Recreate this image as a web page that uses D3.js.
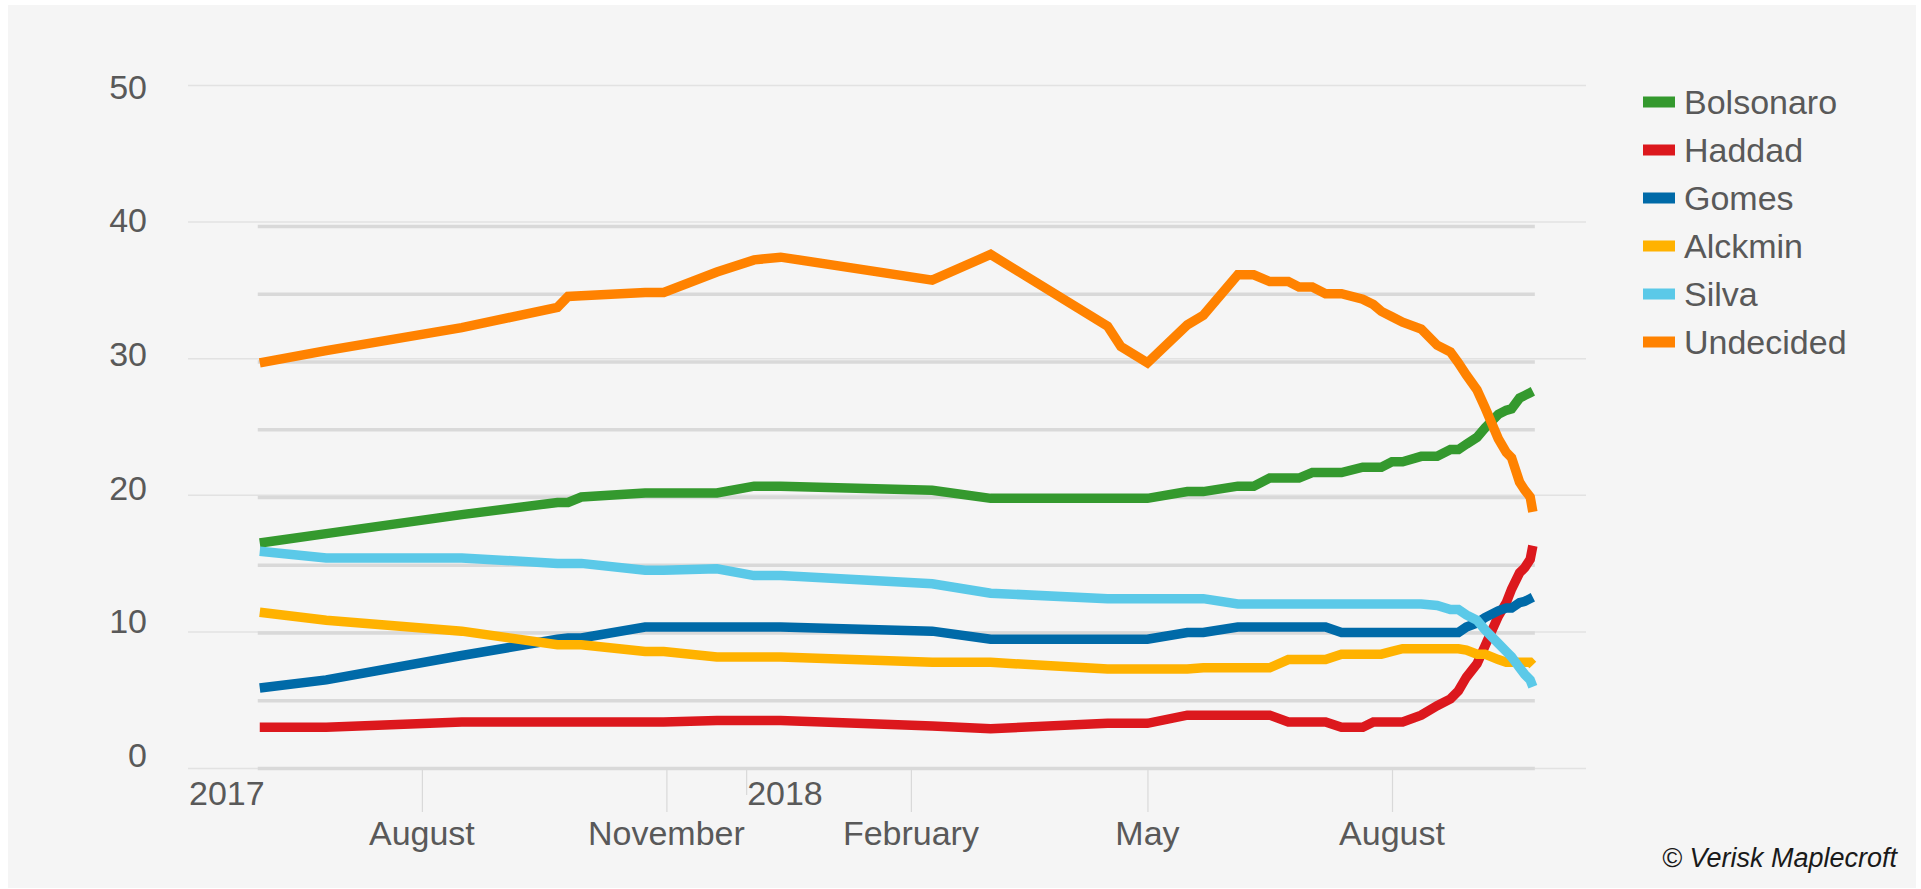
<!DOCTYPE html>
<html>
<head>
<meta charset="utf-8">
<script src="https://cdn.jsdelivr.net/npm/d3@7"></script>
<style>
  body { margin: 0; background: #ffffff; }
  text { font-family: "Liberation Sans", Arial, sans-serif; }
</style>
</head>
<body>
<div id="line-chart"></div>
<script>
// poll dates and one value per candidate per date
var pollDates = ["2017-06-01", "2017-06-26", "2017-08-16", "2017-09-21", "2017-09-25", "2017-09-30",
  "2017-10-24", "2017-10-31", "2017-11-20", "2017-12-04", "2017-12-14", "2018-02-09", "2018-03-03",
  "2018-04-16", "2018-04-21", "2018-05-01", "2018-05-16", "2018-05-22", "2018-06-04", "2018-06-10",
  "2018-06-16", "2018-06-23", "2018-06-27", "2018-07-02", "2018-07-07", "2018-07-13", "2018-07-21",
  "2018-07-25", "2018-07-28", "2018-08-01", "2018-08-05", "2018-08-12", "2018-08-18", "2018-08-23",
  "2018-08-26", "2018-08-29", "2018-09-02", "2018-09-05", "2018-09-10", "2018-09-13", "2018-09-15",
  "2018-09-18", "2018-09-20", "2018-09-22", "2018-09-23"];

var bolsonaro = [16.6, 17.3, 18.7, 19.6, 19.6, 20.0, 20.3, 20.3, 20.3, 20.8, 20.8, 20.5, 19.9,
  19.9, 19.9, 19.9, 20.4, 20.4, 20.8, 20.8, 21.4, 21.4, 21.4, 21.8, 21.8, 21.8, 22.2, 22.2, 22.2,
  22.6, 22.6, 23.0, 23.0, 23.5, 23.5, 23.9, 24.4, 25.1, 26.1, 26.4, 26.5, 27.3, 27.5, 27.7, 27.8];
var haddad = [3.0, 3.0, 3.4, 3.4, 3.4, 3.4, 3.4, 3.4, 3.5, 3.5, 3.5, 3.1, 2.9,
  3.3, 3.3, 3.3, 3.9, 3.9, 3.9, 3.9, 3.9, 3.4, 3.4, 3.4, 3.4, 3.0, 3.0, 3.4, 3.4,
  3.4, 3.4, 3.9, 4.6, 5.1, 5.7, 6.7, 7.7, 9.0, 11.2, 12.2, 13.2, 14.4, 14.8, 15.4, 16.4];
var gomes = [5.9, 6.5, 8.3, 9.5, 9.6, 9.6, 10.4, 10.4, 10.4, 10.4, 10.4, 10.1, 9.5,
  9.5, 9.5, 9.5, 10.0, 10.0, 10.4, 10.4, 10.4, 10.4, 10.4, 10.4, 10.4, 10.0, 10.0, 10.0, 10.0,
  10.0, 10.0, 10.0, 10.0, 10.0, 10.0, 10.4, 10.7, 11.1, 11.6, 11.8, 11.8, 12.2, 12.3, 12.5, 12.6];
var alckmin = [11.5, 10.9, 10.1, 9.1, 9.1, 9.1, 8.6, 8.6, 8.2, 8.2, 8.2, 7.8, 7.8,
  7.3, 7.3, 7.3, 7.3, 7.4, 7.4, 7.4, 7.4, 8.0, 8.0, 8.0, 8.0, 8.4, 8.4, 8.4, 8.4,
  8.6, 8.8, 8.8, 8.8, 8.8, 8.8, 8.7, 8.4, 8.4, 8.0, 7.8, 7.8, 7.8, 7.8, 7.8, 7.6];
var silva = [16.0, 15.5, 15.5, 15.1, 15.1, 15.1, 14.6, 14.6, 14.7, 14.2, 14.2, 13.6, 12.9,
  12.5, 12.5, 12.5, 12.5, 12.5, 12.1, 12.1, 12.1, 12.1, 12.1, 12.1, 12.1, 12.1, 12.1, 12.1, 12.1,
  12.1, 12.1, 12.1, 12.0, 11.7, 11.7, 11.3, 10.9, 10.2, 9.2, 8.6, 8.2, 7.4, 6.9, 6.5, 6.0];
var undecided = [29.9, 30.8, 32.5, 34.0, 34.8, 34.85, 35.1, 35.1, 36.6, 37.5, 37.7, 36.0, 37.9,
  32.6, 31.1, 29.9, 32.7, 33.4, 36.4, 36.4, 35.9, 35.9, 35.5, 35.5, 35.0, 35.0, 34.6, 34.2, 33.7,
  33.3, 32.9, 32.4, 31.2, 30.7, 29.9, 29.0, 27.9, 26.6, 24.3, 23.3, 22.9, 21.1, 20.5, 20.0, 18.9];

var seriesNames = ["Bolsonaro", "Haddad", "Gomes", "Alckmin", "Silva", "Undecided"];
var seriesValues = [bolsonaro, haddad, gomes, alckmin, silva, undecided];
var seriesColors = ["#34992e", "#dc181d", "#006aa8", "#ffb200", "#5bc9e8", "#ff8200"];

var yTicks = [0, 10, 20, 30, 40, 50];
var yInnerTicks = [0, 5, 10, 15, 20, 25, 30, 35, 40];
var yearTicks = [["2017-05-05", "2017"], ["2017-12-01", "2018"]];
var monthTicks = [["2017-08-01", "August"], ["2017-11-01", "November"], ["2018-02-01", "February"],
  ["2018-05-01", "May"], ["2018-08-01", "August"]];

var parse = d3.timeParse("%Y-%m-%d");
var width = 1921;
var height = 889;

var svg = d3.select("#line-chart")
  .append("svg")
  .attr("width", width)
  .attr("height", height);

// grey panel
svg.append("rect")
  .attr("x", 8).attr("y", 5)
  .attr("width", 1908).attr("height", 883)
  .attr("fill", "#f5f5f5");

var x = d3.scaleTime()
  .domain([parse("2017-05-05"), parse("2018-10-13")])
  .range([188, 1586]);

// outer axis (labels 0-50) and the inner plot (0-40) don't line up exactly in the original
var y = d3.scaleLinear().domain([0, 50]).range([768, 85]);
var yInner = d3.scaleLinear().domain([0, 40]).range([768, 226]);
var yLabel = d3.scaleLinear().domain([0, 50]).range([755, 86.5]);

// thin gridlines
svg.append("g")
  .attr("transform", "translate(188 0)")
  .call(d3.axisLeft(y).tickValues(yTicks).tickSize(-(x.range()[1] - x.range()[0])).tickFormat(""))
  .call(g => g.select(".domain").remove())
  .call(g => g.selectAll("line").attr("stroke", "#e2e2e2").attr("stroke-width", 1.5));

// y labels
svg.append("g")
  .selectAll("text")
  .data(yTicks)
  .enter()
  .append("text")
  .attr("x", 147)
  .attr("y", d => yLabel(d) + 12)
  .attr("text-anchor", "end")
  .style("font-size", "34px")
  .attr("fill", "#595959")
  .text(d => d);

// inner gridlines
var x0 = x(parse(pollDates[0])) - 2;
var x1 = x(parse(pollDates[pollDates.length - 1])) + 2;
svg.append("g")
  .attr("transform", "translate(" + x0 + " 0)")
  .call(d3.axisLeft(yInner).tickValues(yInnerTicks).tickSize(-(x1 - x0)).tickFormat(""))
  .call(g => g.select(".domain").remove())
  .call(g => g.selectAll("line").attr("stroke", "#d9d9d9").attr("stroke-width", 3.5));

// x ticks: months (long) and years (short)
svg.append("g")
  .attr("transform", "translate(0 770)")
  .call(d3.axisBottom(x).tickValues(monthTicks.map(d => parse(d[0]))).tickSize(42).tickFormat(""))
  .call(g => g.select(".domain").remove())
  .call(g => g.selectAll("line").attr("stroke", "#d9d9d9").attr("stroke-width", 1.2));

svg.append("g")
  .attr("transform", "translate(0 770)")
  .call(d3.axisBottom(x).tickValues([parse(yearTicks[1][0])]).tickSize(25).tickFormat(""))
  .call(g => g.select(".domain").remove())
  .call(g => g.selectAll("line").attr("stroke", "#d9d9d9").attr("stroke-width", 1.2));

svg.append("g")
  .selectAll("text")
  .data(yearTicks)
  .enter()
  .append("text")
  .attr("x", d => x(parse(d[0])) + 1)
  .attr("y", 805)
  .style("font-size", "34px")
  .attr("fill", "#595959")
  .text(d => d[1]);

svg.append("g")
  .selectAll("text")
  .data(monthTicks)
  .enter()
  .append("text")
  .attr("x", d => x(parse(d[0])))
  .attr("y", 845)
  .attr("text-anchor", "middle")
  .style("font-size", "34px")
  .attr("fill", "#595959")
  .text(d => d[1]);

// lines
var line = d3.line()
  .x((d, i) => x(parse(pollDates[i])))
  .y(d => yInner(d));

svg.append("g")
  .selectAll("path")
  .data(seriesValues)
  .enter()
  .append("path")
  .attr("d", d => line(d))
  .attr("fill", "none")
  .attr("stroke", (d, i) => seriesColors[i])
  .attr("stroke-width", 9.5)
  .attr("stroke-linejoin", "miter");

// legend
var legend = svg.append("g")
  .selectAll("g")
  .data(seriesNames)
  .enter()
  .append("g")
  .attr("transform", (d, i) => "translate(1643 " + (102 + i * 48) + ")");

legend.append("rect")
  .attr("x", 0).attr("y", -5.5)
  .attr("width", 32).attr("height", 11)
  .attr("fill", (d, i) => seriesColors[i]);

legend.append("text")
  .attr("x", 41)
  .attr("y", 12)
  .style("font-size", "34px")
  .attr("fill", "#595959")
  .text(d => d);

svg.append("text")
  .attr("x", 1897)
  .attr("y", 867)
  .attr("text-anchor", "end")
  .style("font-size", "27px")
  .style("font-style", "italic")
  .attr("fill", "#1a1a1a")
  .text("\u00a9 Verisk Maplecroft");
</script>
</body>
</html>
